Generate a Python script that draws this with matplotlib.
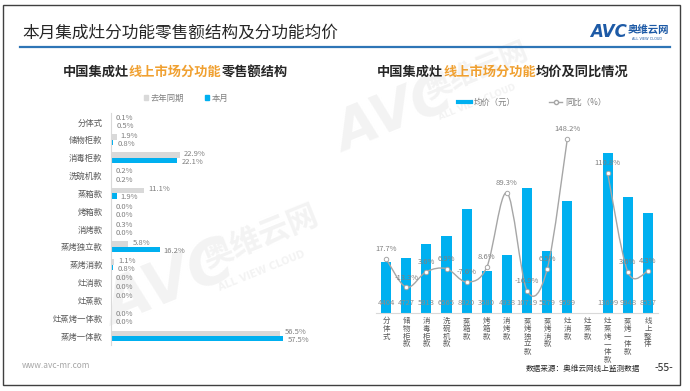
import numpy as np
import matplotlib.pyplot as plt
from matplotlib.patches import Patch, Rectangle, PathPatch
from matplotlib.lines import Line2D
from matplotlib.path import Path

plt.rcParams['font.family'] = ['Noto Sans CJK SC', 'DejaVu Sans']

# left chart: share of retail sales (%)
share_cats = ['分体式', '储物柜款', '消毒柜款', '洗碗机款', '蒸箱款', '烤箱款', '消烤款',
              '蒸烤独立款', '蒸烤消款', '灶消款', '灶蒸款', '灶蒸烤一体款', '蒸烤一体款']
share_last = [0.1, 1.9, 22.9, 0.2, 11.1, 0.0, 0.3, 5.8, 1.1, 0.0, 0.0, 0.0, 56.5]
share_now = [0.5, 0.8, 22.1, 0.2, 1.9, 0.0, 0.0, 16.2, 0.8, 0.0, np.nan, 0.0, 57.5]

# right chart: average price and YoY
price_cats = ['分体式', '储物柜款', '消毒柜款', '洗碗机款', '蒸箱款', '烤箱款', '消烤款',
              '蒸烤独立款', '蒸烤消款', '灶消款', '灶蒸款', '灶蒸烤一体款', '蒸烤一体款', '线上整体']
price = [4404, 4727, 5913, 6565, 8920, 3580, 4938, 10719, 5279, 9599, np.nan, 13699, 9948, 8537]
yoy = [17.7, -13.3, 3.6, 6.9, -7.6, 8.6, 89.3, -16.9, 6.5, 148.2, np.nan, 110.8, 3.6, 4.3]

BLUE = '#00b0f0'
GRAY = '#d9d9d9'
TXT = '#7f7f7f'
ORANGE = '#f0a030'

W, H = 690, 391
fig = plt.figure(figsize=(W / 100, H / 100), dpi=100)


def fx(px):
    return px / W


def fy(py):
    return 1 - py / H


# frame, title, rule
fig.add_artist(Rectangle((fx(3), fy(385)), fx(680) - fx(3), fy(5) - fy(385),
                         transform=fig.transFigure, fill=False, ec='#404040', lw=1))
fig.text(fx(22), fy(33), '本月集成灶分功能零售额结构及分功能均价', fontsize=12,
         color='#262626', va='center')
fig.add_artist(Line2D([fx(20), fx(670)], [fy(47), fy(47)], transform=fig.transFigure,
                      color='#2e75b6', lw=1.6))
fig.text(fx(590), fy(32), 'AVC', fontsize=12, fontweight='bold', style='italic',
         color='#1d5aa6', va='center', family='DejaVu Sans')
fig.text(fx(628), fy(30), '奥维云网', fontsize=7.5, fontweight='bold', color='#1d5aa6',
         va='center')
fig.text(fx(632), fy(39), 'ALL VIEW CLOUD', fontsize=2.5, color='#1d5aa6', va='center',
         family='DejaVu Sans')


def watermark(cx, cy, scale=1.0):
    kw = dict(color='#f3f3f3', rotation=22, ha='center', va='center', zorder=-5,
              fontweight='bold')
    fig.text(fx(cx), fy(cy), 'AVC', fontsize=44 * scale, style='italic',
             family='DejaVu Sans', **kw)
    fig.text(fx(cx + 90 * scale), fy(cy - 48 * scale), '奥维云网', fontsize=22 * scale, **kw)
    fig.text(fx(cx + 92 * scale), fy(cy - 14 * scale), 'ALL VIEW CLOUD', fontsize=7 * scale,
             family='DejaVu Sans', **kw)


watermark(170, 285)
watermark(395, 115, 0.9)


def color_title(xc, y, parts, size):
    r = fig.canvas.get_renderer()
    texts = [fig.text(0, fy(y), s, color=c, fontsize=size, fontweight='bold', va='center')
             for s, c in parts]
    widths = [t.get_window_extent(r).width for t in texts]
    x = xc - sum(widths) / 2
    for t, w in zip(texts, widths):
        t.set_x(fx(x))
        x += w


color_title(175, 72, [('中国集成灶', '#262626'), ('线上市场分功能', ORANGE),
                      ('零售额结构', '#262626')], 9.5)
color_title(503, 72, [('中国集成灶', '#262626'), ('线上市场分功能', ORANGE),
                      ('均价及同比情况', '#262626')], 9.5)

# ---- left: horizontal bars
ax1 = fig.add_axes([fx(111), fy(345), fx(300) - fx(111), fy(113) - fy(345)])
ax1.set_facecolor('none')
ys = np.arange(len(share_cats))
bh = 0.3
ax1.barh(ys - bh / 2, share_last, height=bh, color=GRAY)
ax1.barh(ys + bh / 2, np.nan_to_num(share_now), height=bh, color=BLUE)
for y, a, b in zip(ys, share_last, share_now):
    ax1.annotate(f'{a:.1f}%', (a, y - bh / 2), xytext=(3, 1), textcoords='offset points',
                 fontsize=5.5, color=TXT, va='center')
    if not np.isnan(b):
        ax1.annotate(f'{b:.1f}%', (b, y + bh / 2), xytext=(3, -1), textcoords='offset points',
                     fontsize=5.5, color=TXT, va='center')
ax1.set_xlim(0, 63)
ax1.set_ylim(len(share_cats) - 0.5, -0.5)
ax1.set_yticks(ys, share_cats, fontsize=6, color='#595959')
ax1.tick_params(axis='y', length=0, pad=6)
ax1.set_xticks([])
for s in ['top', 'right', 'bottom']:
    ax1.spines[s].set_visible(False)
ax1.spines['left'].set_color('#d9d9d9')

fig.legend(handles=[Patch(color=GRAY, label='去年同期'), Patch(color=BLUE, label='本月')],
           loc='center', bbox_to_anchor=(fx(186), fy(98)), ncol=2, frameon=False,
           fontsize=6, labelcolor=TXT, handlelength=0.5, handleheight=0.5,
           handletextpad=0.3, columnspacing=2.5)

# ---- right: price bars + yoy line
ax2 = fig.add_axes([fx(376), fy(313), fx(658) - fx(376), fy(120) - fy(313)])
ax2.set_facecolor('none')
xs = np.arange(len(price_cats))
ax2.bar(xs, price, width=0.5, color=BLUE)
for x, p in zip(xs, price):
    if not np.isnan(p):
        ax2.annotate(f'{p:.0f}', (x, 0), xytext=(0, 7), textcoords='offset points',
                     fontsize=5.5, color='#8c8c8c', ha='center', va='center')
ax2.set_xlim(-0.5, len(price_cats) - 0.5)
ax2.set_ylim(0, 16525)
ax2.set_yticks([])
ax2.set_xticks(xs, ['\n'.join(c) for c in price_cats], fontsize=5.4, color='#595959',
               linespacing=0.95)
ax2.tick_params(axis='x', length=0, pad=3)
for s in ['top', 'right', 'left']:
    ax2.spines[s].set_visible(False)
ax2.spines['bottom'].set_color('#d9d9d9')

ax3 = ax2.twinx()
ax3.set_ylim(-41.3, 168.5)
ax3.set_yticks([])
for s in ax3.spines.values():
    s.set_visible(False)


def smooth_path(px, py):
    pts = np.column_stack([px, py])
    verts, codes = [pts[0]], [Path.MOVETO]
    n = len(pts)
    for i in range(n - 1):
        p0, p1, p2 = pts[max(i - 1, 0)], pts[i], pts[i + 1]
        p3 = pts[min(i + 2, n - 1)]
        verts += [p1 + (p2 - p0) / 6, p2 - (p3 - p1) / 6, p2]
        codes += [Path.CURVE4] * 3
    return Path(verts, codes)


yoy_arr = np.array(yoy)
for seg in [slice(0, 10), slice(11, 14)]:
    ax3.add_patch(PathPatch(smooth_path(xs[seg], yoy_arr[seg]), fc='none',
                            ec='#a6a6a6', lw=1))
ax3.plot(xs, yoy_arr, ls='none', marker='o', ms=3.2, mfc='white', mec='#a6a6a6', mew=0.7)
for x, v in zip(xs, yoy_arr):
    if not np.isnan(v):
        ax3.annotate(f'{v:.1f}%', (x, v), xytext=(0, 7), textcoords='offset points',
                     fontsize=5.5, color=TXT, ha='center', va='center')

fig.legend(handles=[Line2D([], [], color=BLUE, lw=3, label='均价（元）'),
                    Line2D([], [], color='#a6a6a6', lw=1, marker='o', ms=3, mfc='white',
                           label='同比（%）')],
           loc='center', bbox_to_anchor=(fx(532), fy(102)), ncol=2, frameon=False,
           fontsize=6, labelcolor=TXT, handlelength=1.6, handletextpad=0.3,
           columnspacing=4)

# footer
fig.text(fx(22), fy(366), 'www.avc-mr.com', fontsize=6, color='#a6a6a6', va='center')
fig.text(fx(640), fy(369), '数据来源：奥维云网线上监测数据', fontsize=5.5, color='#262626',
         va='center', ha='right')
fig.text(fx(655), fy(368), '-55-', fontsize=7.5, color='#262626', va='center')

fig.savefig('out.png', dpi=100)
